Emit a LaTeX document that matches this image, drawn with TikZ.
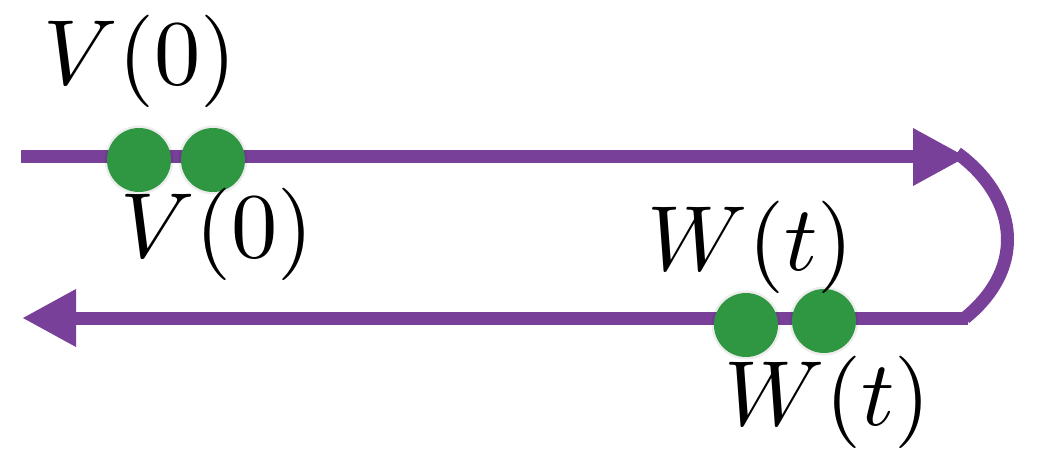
\documentclass[tikz,border=0pt]{standalone}
\usetikzlibrary{arrows.meta}
\definecolor{lpurple}{RGB}{121,64,154}
\definecolor{dgreen}{RGB}{47,151,66}
\tikzset{
  track/.style={draw=lpurple, line width=13pt},
  tip/.style={-{Triangle[length=54pt,width=54pt]}},
  dot/.style={circle, fill=dgreen, minimum size=64pt, inner sep=0pt},
  halo/.style={circle, fill=black, opacity=0.07, minimum size=69pt, inner sep=0pt},
  lab/.style={anchor=base west, inner sep=0pt, font=\normalsize, scale=9.25, transform shape}
}
\begin{document}
\begin{tikzpicture}[x=1pt,y=-1pt]
\useasboundingbox (0,0) rectangle (1039,449);
% track end points
\coordinate (ts) at (21,157);
\coordinate (te) at (967,157);
\coordinate (cs) at (957,153);
\coordinate (ce) at (965,318);
\coordinate (bs) at (968,318);
\coordinate (be) at (22,318);
\draw[track, tip] (ts) -- (te);
\draw[track] (cs) .. controls (1015,195) and (1030,265) .. (ce);
\draw[track, tip] (bs) -- (be);
% halos
\node[halo] at (139,160) {};
\node[halo] at (213,160) {};
\node[halo] at (746,325) {};
\node[halo] at (824,321) {};
% dots
\node[dot] (v1) at (139,160) {};
\node[dot] (v2) at (213,160) {};
\node[dot] (w1) at (746,325) {};
\node[dot] (w2) at (824,321) {};
% labels
\node[lab] (lv1) at (42,85) {$V(0)$};
\node[lab] (lv2) at (119,258) {$V(0)$};
\node[lab] (lw1) at (646,270) {$W(t)$};
\node[lab] (lw2) at (723,425) {$W(t)$};
\end{tikzpicture}
\end{document}
